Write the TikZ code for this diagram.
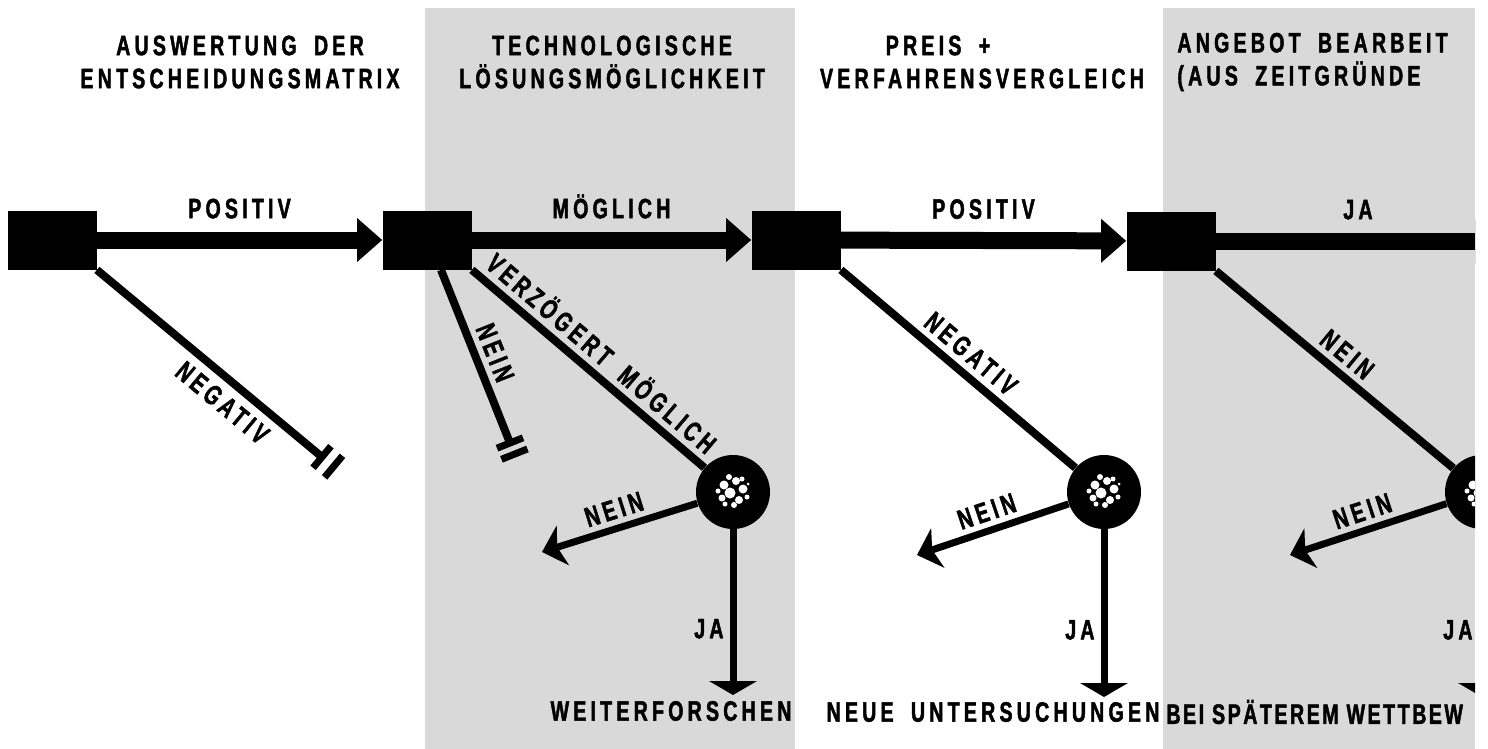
\documentclass[tikz,border=0pt]{standalone}
\usepackage{fontspec}
\newfontfamily\condfont[FakeStretch=0.7,LetterSpace=15,WordSpace=1.8,FakeBold=1.6]{Liberation Sans}
\newfontfamily\tightfont[FakeStretch=0.7,LetterSpace=9,FakeBold=1.6]{Liberation Sans}
\usetikzlibrary{arrows.meta,calc}

\begin{document}
\begin{tikzpicture}[x=0.5pt, y=-0.5pt,
	txt/.style={font=\condfont\bfseries\fontsize{14}{16.5}\selectfont, inner sep=0pt},
	tighttxt/.style={font=\tightfont\bfseries\fontsize{14}{16.5}\selectfont, inner sep=0pt},
	panel/.style={fill=black!15},
	box/.style={fill=black, minimum width=44.5pt, minimum height=29.5pt, inner sep=0pt},
	knot/.style={circle, fill=black, minimum size=37pt, inner sep=0pt},
	main/.style={line width=8.5pt, -{Triangle[length=12.5pt,width=22pt,line width=0pt]}},
	diag/.style={line width=4pt},
	stopbar/.style={line width=3.5pt},
	branch/.style={line width=3.5pt, -{Stealth[length=11pt,width=21pt,inset=3pt,line width=0pt]}},
	down/.style={line width=3.5pt, -{Triangle[length=7pt,width=24pt,line width=0pt]}}]
	
	\useasboundingbox (0,0) rectangle (1488,749);
	\clip (0,0) rectangle (1475,749);
	\fill[panel] (425,8) rectangle (795,749);
	\fill[panel] (1163,8) rectangle (1475,749);
	
	% titles
	\node[txt, align=center] (evaltitle) at (240,62) {AUSWERTUNG DER\\ENTSCHEIDUNGSMATRIX};
	\node[txt, align=center] (techtitle) at (612,62) {TECHNOLOGISCHE\\LÖSUNGSMÖGLICHKEIT};
	\node[txt, align=center] (pricetitle) at (982,62) {PREIS +\hspace*{44pt}\\VERFAHRENSVERGLEICH};
	\node[txt, align=left, anchor=west] (offertitle) at (1177,62) {ANGEBOT BEARBEIT\\(AUS ZEITGRÜNDE};
	
	% boxes and knots
	\node[box] (evalbox) at (52,240) {};
	\node[box] (techbox) at (427,240) {};
	\node[box] (pricebox) at (796,240) {};
	\node[box] (offerbox) at (1171,241) {};
	\node[knot] (techknot) at (733,492) {};
	\node[knot] (priceknot) at (1104,492) {};
	\node[knot] (offerknot) at (1482,492) {};
	\foreach \k in {techknot, priceknot, offerknot}
		\foreach \dx/\dy/\r in {-9/-7/4.5, 3/-11/4, 10/-3/4.5, -3/1/5.5, 6/8/4, -11/6/3.5, 1/13/3, 14/5/2.5, -4/-15/3, -15/-1/2.5, 9/-13/2.5, -8/12/2.5, 15/-8/1.5}
			\fill[white] ([shift={(\dx,\dy)}]\k) circle (\r);
	
	\coordinate (evalfoot) at (evalbox.south east);
	\coordinate (evalstop) at (322,457);
	\coordinate (techfoot) at ([xshift=7pt]techbox.south);
	\coordinate (techstop) at (510,443);
	\coordinate (technein) at (542,552);
	\coordinate (techja) at (733,695);
	\coordinate (pricenein) at (917,555);
	\coordinate (priceja) at (1104,697);
	\coordinate (offerout) at (1500,241);
	\coordinate (offernein) at (1290,555);
	\coordinate (offerja) at (1482,697);
	
	% decision 1
	\draw[main] (evalbox) -- node[txt, above=6.5pt]{POSITIV} (techbox);
	\draw[diag] (evalfoot) -- node[txt, sloped, below=4pt, pos=0.62]{NEGATIV} (evalstop);
	
	% decision 2
	\draw[main] (techbox) -- node[txt, above=6.5pt]{MÖGLICH} (pricebox);
	\draw[diag] (techfoot) -- node[txt, sloped, above=3pt, pos=0.52]{NEIN} (techstop);
	\draw[diag] (techbox.south east) -- node[txt, sloped, above=3pt]{VERZÖGERT MÖGLICH} (techknot);
	\draw[branch] (techknot) -- node[txt, sloped, above=3pt]{NEIN} (technein);
	\draw[down] (techknot) -- node[txt, left=3pt, pos=0.6]{JA} (techja);
	\node[txt] (techres) at (671,711) {WEITERFORSCHEN};
	
	% double stop bars
	\foreach \s/\o/\g in {evalstop/evalfoot/7.5pt, techstop/techfoot/6pt} {
		\coordinate (\s2) at ($(\s)!-\g!(\o)$);
		\draw[stopbar] ($(\s)!7pt!90:(\o)$) -- ($(\s)!7pt!-90:(\o)$);
		\draw[stopbar] ($(\s2)!7pt!90:(\o)$) -- ($(\s2)!7pt!-90:(\o)$);
	}
	
	% decision 3
	\draw[main] (pricebox) -- node[txt, above=6.5pt]{POSITIV} (offerbox);
	\draw[diag] (pricebox.south east) -- node[txt, sloped, above=3pt]{NEGATIV} (priceknot);
	\draw[branch] (priceknot) -- node[txt, sloped, above=3pt]{NEIN} (pricenein);
	\draw[down] (priceknot) -- node[txt, left=3pt, pos=0.6]{JA} (priceja);
	\node[txt] (priceres) at (993,712) {NEUE UNTERSUCHUNGEN};
	
	% decision 4
	\draw[main] (offerbox) -- node[txt, above=6.5pt]{JA} (offerout);
	\draw[diag] (offerbox.south east) -- node[txt, sloped, above=3pt]{NEIN} (offerknot);
	\draw[branch] (offerknot) -- node[txt, sloped, above=3pt]{NEIN} (offernein);
	\draw[down] (offerknot) -- node[txt, left=3pt, pos=0.6]{JA} (offerja);
	\node[tighttxt, anchor=west] (offerres) at (1166,712) {BEI SPÄTEREM WETTBEW};
\end{tikzpicture}
\end{document}
